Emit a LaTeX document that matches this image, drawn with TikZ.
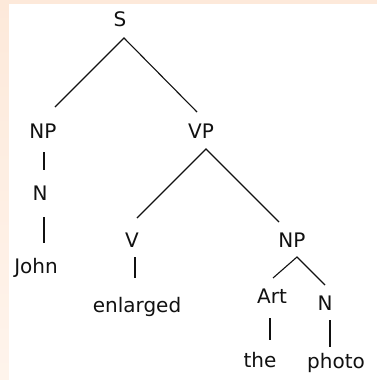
\documentclass[tikz,border=0pt]{standalone}
\usepackage{fontspec}
\setmainfont{DejaVu Sans}
\definecolor{peachtop}{HTML}{FDE9DA}
\definecolor{peachbot}{HTML}{FEF4EC}
\definecolor{ink}{HTML}{111111}
\begin{document}
\begin{tikzpicture}[x=1pt,y=-1pt,
  lbl/.style={anchor=base,inner sep=0pt,text=ink,font=\fontsize{20}{24}\selectfont},
  edge/.style={draw=ink,line width=1.1pt}]
\useasboundingbox (0,0) rectangle (377,380);
\shade[top color=peachtop,bottom color=peachbot] (0,0) rectangle (377,380);
\fill[white] (9,4) rectangle (377,380);
% labels
\node[lbl] (S) at (120,27) {S};
\node[lbl] (NP1) at (43,138) {NP};
\node[lbl] (VP) at (201,138) {VP};
\node[lbl] (N1) at (40,200) {N};
\node[lbl] (John) at (36,273) {John};
\node[lbl] (V) at (132,247) {V};
\node[lbl] (NP2) at (292,247) {NP};
\node[lbl] (enl) at (137,312) {enlarged};
\node[lbl] (Art) at (272,303) {Art};
\node[lbl] (N2) at (325,310) {N};
\node[lbl] (the) at (260,367) {the};
\node[lbl] (photo) at (336,368) {photo};
% connector end points
\coordinate (S-b) at (124,38);
\coordinate (NP1-t) at (55,107);
\coordinate (VP-t) at (197,112);
\coordinate (NP1-b) at (44,152);
\coordinate (N1-t) at (44,170);
\coordinate (N1-b) at (44,217);
\coordinate (John-t) at (44,243);
\coordinate (VP-b) at (206,149);
\coordinate (V-t) at (137,218);
\coordinate (NP2-t) at (279,222);
\coordinate (V-b) at (135,257);
\coordinate (enl-t) at (135,278);
\coordinate (NP2-b) at (297,257);
\coordinate (Art-t) at (273,278);
\coordinate (N2-t) at (325,285);
\coordinate (Art-b) at (270,318);
\coordinate (the-t) at (270,340);
\coordinate (N2-b) at (330,320);
\coordinate (photo-t) at (330,347);
% connectors
\draw[edge] (NP1-t) -- (S-b) -- (VP-t);
\draw[edge] (NP1-b) -- (N1-t);
\draw[edge] (N1-b) -- (John-t);
\draw[edge] (V-t) -- (VP-b) -- (NP2-t);
\draw[edge] (V-b) -- (enl-t);
\draw[edge] (Art-t) -- (NP2-b) -- (N2-t);
\draw[edge] (Art-b) -- (the-t);
\draw[edge] (N2-b) -- (photo-t);
\end{tikzpicture}
\end{document}
